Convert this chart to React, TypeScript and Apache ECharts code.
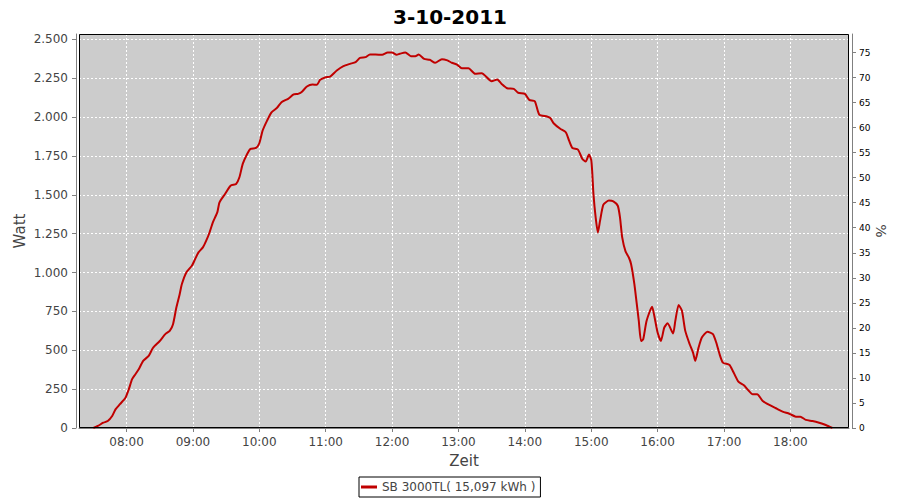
import { useEffect, useRef } from 'react';
import * as echarts from 'echarts';

const chartTitle = '3-10-2011';
const seriesName = 'SB 3000TL( 15,097 kWh )';

const times = [
  '07:30', '07:34', '07:39', '07:43', '07:47', '07:50', '07:54', '07:59', '08:02', '08:05',
  '08:08', '08:11', '08:15', '08:20', '08:24', '08:30', '08:35', '08:39', '08:42', '08:45',
  '08:48', '08:50', '08:54', '08:59', '09:02', '09:05', '09:09', '09:12', '09:15', '09:18',
  '09:22', '09:24', '09:29', '09:34', '09:39', '09:42', '09:45', '09:49', '09:52', '09:57',
  '10:00', '10:03', '10:07', '10:11', '10:16', '10:20', '10:26', '10:31', '10:35', '10:38',
  '10:43', '10:48', '10:52', '10:55', '11:00', '11:04', '11:10', '11:16', '11:22', '11:27',
  '11:31', '11:36', '11:40', '11:45', '11:51', '11:56', '12:00', '12:04', '12:07', '12:12',
  '12:17', '12:21', '12:24', '12:29', '12:34', '12:39', '12:45', '12:50', '12:54', '12:59',
  '13:03', '13:09', '13:15', '13:21', '13:30', '13:35', '13:39', '13:44', '13:50', '13:54',
  '14:00', '14:04', '14:09', '14:13', '14:20', '14:23', '14:26', '14:32', '14:37', '14:40',
  '14:43', '14:48', '14:52', '14:55', '14:58', '15:00', '15:01', '15:02', '15:04', '15:06',
  '15:08', '15:11', '15:16', '15:20', '15:24', '15:26', '15:28', '15:31', '15:34', '15:36',
  '15:39', '15:41', '15:43', '15:45', '15:47', '15:50', '15:55', '15:57', '16:00', '16:03',
  '16:06', '16:09', '16:14', '16:16', '16:19', '16:22', '16:25', '16:29', '16:32', '16:34',
  '16:37', '16:40', '16:45', '16:50', '16:53', '16:56', '16:59', '17:05', '17:08', '17:13',
  '17:18', '17:22', '17:26', '17:30', '17:35', '17:41', '17:47', '17:53', '17:59', '18:05',
  '18:09', '18:14', '18:20', '18:26', '18:32', '18:38',
];

const watts = [
  0, 13, 34, 45, 77, 120, 153, 195, 249, 314,
  346, 378, 432, 464, 517, 560, 604, 625, 668, 775,
  861, 926, 1001, 1044, 1087, 1130, 1162, 1205, 1258, 1323,
  1387, 1452, 1506, 1559, 1570, 1613, 1699, 1763, 1796, 1802,
  1832, 1914, 1978, 2031, 2060, 2096, 2118, 2146, 2150, 2160,
  2197, 2210, 2208, 2240, 2257, 2261, 2300, 2328, 2343, 2354,
  2382, 2386, 2403, 2403, 2401, 2416, 2416, 2401, 2408, 2416,
  2392, 2392, 2403, 2375, 2369, 2350, 2373, 2365, 2350, 2337,
  2315, 2315, 2279, 2283, 2231, 2242, 2214, 2186, 2182, 2157,
  2150, 2111, 2102, 2017, 2004, 1995, 1961, 1925, 1903, 1849,
  1802, 1791, 1731, 1714, 1759, 1725, 1635, 1506, 1355, 1258,
  1334, 1437, 1463, 1458, 1430, 1355, 1226, 1136, 1097, 1055,
  926, 808, 689, 560, 571, 689, 780, 722, 614, 560,
  646, 674, 608, 689, 792, 754, 625, 539, 485, 432,
  517, 582, 620, 604, 550, 475, 421, 406, 367, 298,
  275, 243, 217, 217, 174, 148, 127, 105, 92, 73,
  73, 52, 45, 34, 19, 0,
];

const xTickLabels = ['08:00', '09:00', '10:00', '11:00', '12:00', '13:00', '14:00', '15:00', '16:00', '17:00', '18:00'];
const wattTicks = [0, 250, 500, 750, 1000, 1250, 1500, 1750, 2000, 2250, 2500];
const percentTicks = [0, 5, 10, 15, 20, 25, 30, 35, 40, 45, 50, 55, 60, 65, 70, 75];

const xStart = '07:17';
const xEnd = '18:53';
const wattMax = 2535;
const percentMax = 78.7;

function toMin(s: string): number {
  const [h, m] = s.split(':').map(Number);
  return h * 60 + m;
}

function fmtTime(v: number): string {
  const h = Math.floor(v / 60);
  const m = Math.round(v - h * 60);
  return String(h).padStart(2, '0') + ':' + String(m).padStart(2, '0');
}

function fmtWatt(v: number): string {
  if (v >= 1000) {
    return Math.floor(v / 1000) + '.' + String(v % 1000).padStart(3, '0');
  }
  return String(v);
}

const FONT = 'DejaVu Sans';
const LINE_COLOR = '#c00000';

export default function App() {
  const ref = useRef<HTMLDivElement>(null);

  useEffect(() => {
    if (!ref.current) return;
    const chart = echarts.init(ref.current, null, { renderer: 'svg' });
    const xTicks = xTickLabels.map(toMin);
    const data = times.map((t, i) => [toMin(t), watts[i]]);
    const axisGray = '#808080';

    chart.setOption({
      animation: false,
      backgroundColor: '#ffffff',
      textStyle: { fontFamily: FONT },
      title: {
        text: chartTitle,
        left: 'center',
        top: 2,
        textStyle: { fontFamily: FONT, fontSize: 20, fontWeight: 'bold', color: '#000000' },
      },
      grid: {
        left: 79,
        top: 34,
        right: 51,
        bottom: 72,
        containLabel: false,
        outerBoundsMode: 'none',
        show: true,
        backgroundColor: '#cccccc',
        borderWidth: 0,
      },
      legend: {
        left: 359,
        top: 477,
        padding: [4, 5, 4, 2],
        borderColor: '#000000',
        borderWidth: 1,
        itemWidth: 16,
        itemHeight: 3,
        itemGap: 0,
        icon: 'rect',
        itemStyle: { color: LINE_COLOR },
        textStyle: { fontFamily: FONT, fontSize: 12, color: '#444444' },
        data: [seriesName],
      },
      xAxis: {
        type: 'value',
        min: toMin(xStart),
        max: toMin(xEnd),
        offset: 3,
        name: 'Zeit',
        nameLocation: 'middle',
        nameGap: 22,
        nameMoveOverlap: false,
        nameTextStyle: { fontFamily: FONT, fontSize: 15, color: '#444444' },
        axisLine: { show: true, lineStyle: { color: axisGray, width: 1 } },
        axisTick: { show: true, length: 4, customValues: xTicks, lineStyle: { color: axisGray } },
        axisLabel: {
          customValues: xTicks,
          formatter: (v: number) => fmtTime(v),
          fontFamily: FONT,
          fontSize: 12,
          color: '#444444',
          margin: 5,
        },
        splitLine: { show: true, lineStyle: { color: '#ffffff', width: 1, type: [2, 2] } },
      },
      yAxis: [
        {
          type: 'value',
          position: 'left',
          min: 0,
          max: wattMax,
          offset: 3,
          name: 'Watt',
          nameLocation: 'middle',
          nameRotate: 90,
          nameGap: 49,
          nameMoveOverlap: false,
          nameTextStyle: { fontFamily: FONT, fontSize: 15, color: '#444444' },
          axisLine: { show: true, lineStyle: { color: axisGray, width: 1 } },
          axisTick: { show: true, length: 4, customValues: wattTicks, lineStyle: { color: axisGray } },
          axisLabel: {
            customValues: wattTicks,
            formatter: (v: number) => fmtWatt(v),
            fontFamily: FONT,
            fontSize: 12,
            color: '#444444',
            margin: 8,
          },
          splitLine: { show: true, lineStyle: { color: '#ffffff', width: 1, type: [2, 2] } },
        },
        {
          type: 'value',
          position: 'right',
          min: 0,
          max: percentMax,
          offset: 3,
          name: '%',
          nameLocation: 'middle',
          nameRotate: -90,
          nameGap: 22,
          nameMoveOverlap: false,
          nameTextStyle: { fontFamily: FONT, fontSize: 14, color: '#444444' },
          axisLine: { show: true, lineStyle: { color: axisGray, width: 1 } },
          axisTick: { show: true, length: 4, customValues: percentTicks, lineStyle: { color: axisGray } },
          axisLabel: {
            customValues: percentTicks,
            fontFamily: FONT,
            fontSize: 9,
            color: '#000000',
            margin: 7,
          },
          splitLine: { show: false },
        },
      ],
      series: [
        {
          type: 'line',
          name: seriesName,
          yAxisIndex: 0,
          data,
          symbol: 'none',
          showSymbol: false,
          smooth: 0.2,
          lineStyle: { color: LINE_COLOR, width: 2 },
          itemStyle: { color: LINE_COLOR },
          z: 3,
        },
      ],
      graphic: [
        {
          type: 'rect',
          z: 100,
          silent: true,
          shape: { x: 79.5, y: 34.5, width: 769, height: 393 },
          style: { fill: 'none', stroke: '#000000', lineWidth: 1 },
        },
      ],
    });

    return () => chart.dispose();
  }, []);

  return (
    <div
      ref={ref}
      style={{ position: 'fixed', left: 0, top: 0, width: 900, height: 500 }}
    />
  );
}
